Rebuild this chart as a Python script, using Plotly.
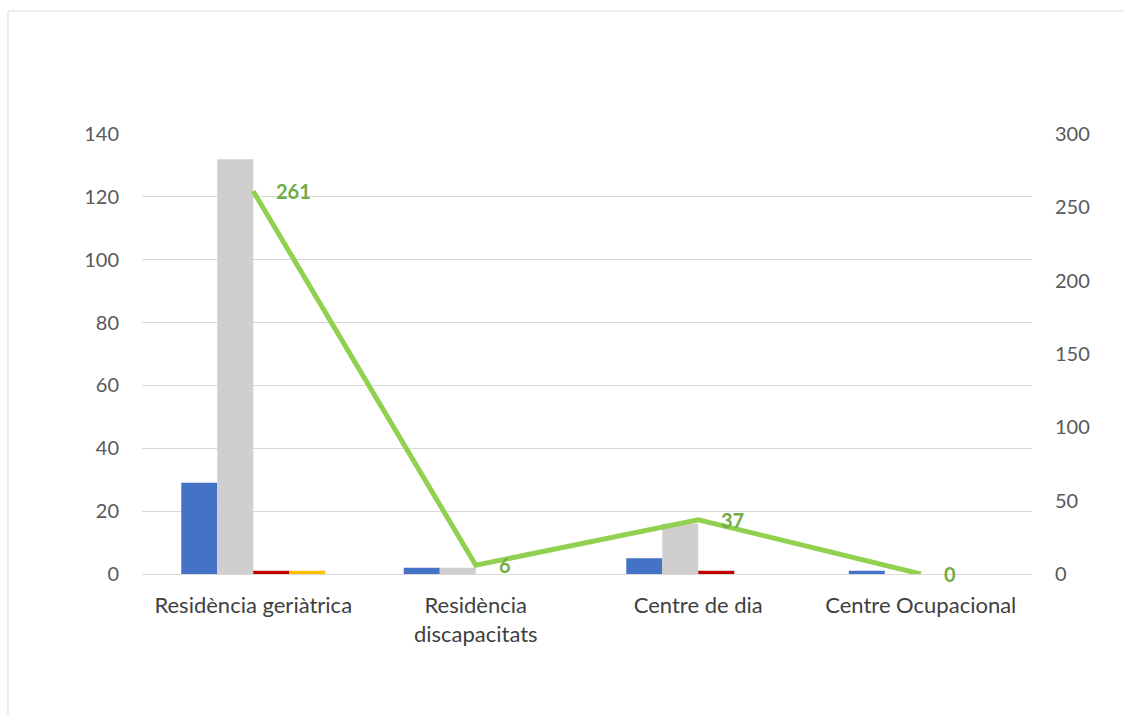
import plotly.graph_objects as go

categories = ["Residència geriàtrica", "Residència<br>discapacitats", "Centre de dia", "Centre Ocupacional"]
serie_blau = [29, 2, 5, 1]
serie_gris = [132, 2, 16, 0]
serie_vermell = [1, 0, 1, 0]
serie_groc = [1, 0, 0, 0]
linia_total = [261, 6, 37, 0]
left_ticks = [0, 20, 40, 60, 80, 100, 120, 140]
right_ticks = [0, 50, 100, 150, 200, 250, 300]

FONT = "Lato, Carlito, Calibri, sans-serif"
fig = go.Figure()
for vals, col in [(serie_blau, "#4472C4"), (serie_gris, "#D0CECE"),
                  (serie_vermell, "#C00000"), (serie_groc, "#FFC000")]:
    fig.add_trace(go.Bar(x=categories, y=vals, marker=dict(color=col, line=dict(width=0)),
                         showlegend=False, hoverinfo="y"))

fig.add_trace(go.Scatter(x=categories, y=linia_total, yaxis="y2", mode="lines",
                         line=dict(color="#92D050", width=5), showlegend=False))

for c, v in zip(categories, linia_total):
    fig.add_annotation(x=c, y=v, yref="y2", text="<b>%d</b>" % v, showarrow=False,
                       xanchor="left", yanchor="middle", xshift=21, yshift=0,
                       font=dict(family=FONT, size=20, color="#70AD47"))

fig.add_shape(type="rect", xref="paper", yref="paper", x0=-0.1506, x1=1.15, y0=-0.4, y1=1.2795,
              line=dict(color="#D9D9D9", width=1), fillcolor="rgba(0,0,0,0)", layer="below")

fig.update_layout(
    width=1124, height=715,
    margin=dict(l=142, r=92, t=134, b=141),
    paper_bgcolor="white", plot_bgcolor="white",
    barmode="group", bargap=0.353, bargroupgap=0,
    font=dict(family=FONT, color="#595959"),
    xaxis=dict(showgrid=False, showline=False, ticks="", ticklabelstandoff=16,
               tickfont=dict(size=22, color="#404040")),
    yaxis=dict(range=[0, 140], tickvals=left_ticks, showgrid=True, gridcolor="#D9D9D9",
               gridwidth=1, zeroline=True, zerolinecolor="#D9D9D9", zerolinewidth=1,
               tickfont=dict(size=20, color="#595959"), ticks="", ticklabelstandoff=22),
    yaxis2=dict(range=[0, 300], tickvals=right_ticks, overlaying="y", side="right",
                showgrid=False, zeroline=False, showline=False,
                tickfont=dict(size=20, color="#595959"), ticks="", ticklabelstandoff=22),
)

fig.write_html("out.html", config={"displayModeBar": False},
               post_script="document.body.style.margin='0';document.body.style.overflow='hidden';"
                           "document.documentElement.style.overflow='hidden';")
